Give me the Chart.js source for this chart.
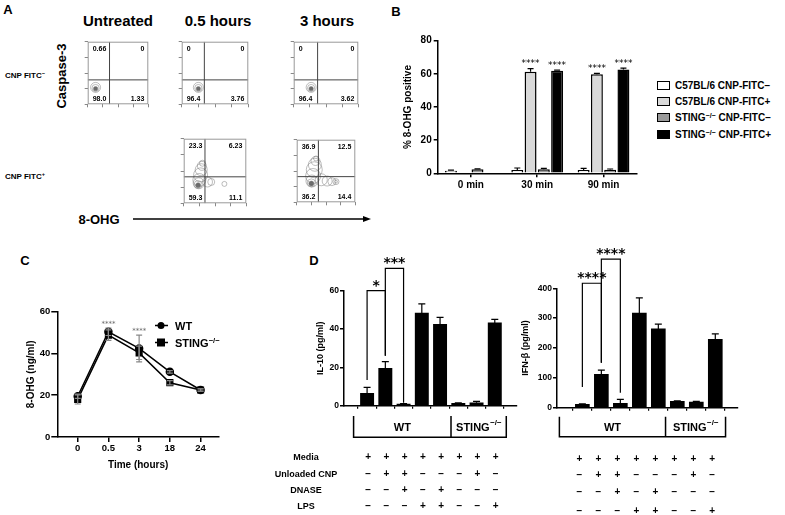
<!DOCTYPE html>
<html lang="en">
<head>
<meta charset="UTF-8" />
<title>8-OHG and STING figure</title>
<script src="https://cdn.jsdelivr.net/npm/chart.js"></script>
<style>
  body { margin: 0; background: #fff; font-family: "Liberation Sans", Arial, sans-serif; }
  #fig { position: relative; width: 785px; height: 515px; overflow: hidden; background: #fff; }
  #fig canvas, #fig svg { position: absolute; }
  .t { position: absolute; font-weight: bold; white-space: nowrap; line-height: 1; color: #000;
       transform: translate(-50%, -50%); }
  .l { position: absolute; font-weight: bold; white-space: nowrap; line-height: 1; color: #000;
       transform: translateY(-50%); }
  sup { font-size: 70%; vertical-align: 0.45em; line-height: 0; }
  .sw { display: inline-block; width: 11px; height: 7px; border: 1.5px solid #000; margin-right: 5px; vertical-align: -1px; }
</style>
</head>
<body>
<div id="fig">
  <!-- panel letters -->
  <div class="t" style="left:8px;top:9px;font-size:13px">A</div>
  <div class="t" style="left:396px;top:11px;font-size:13px">B</div>
  <div class="t" style="left:25px;top:260px;font-size:13px">C</div>
  <div class="t" style="left:314px;top:260px;font-size:13px">D</div>

  <!-- Panel A -->
  <div id="flowHeads"></div>
  <div class="t" style="left:61px;top:76px;font-size:13px;transform:translate(-50%,-50%) rotate(-90deg)">Caspase-3</div>
  <div class="t" style="left:25px;top:76px;font-size:8px">CNP FITC<sup>−</sup></div>
  <div class="t" style="left:25px;top:177px;font-size:8px">CNP FITC<sup>+</sup></div>
  <div class="t" style="left:99px;top:219px;font-size:13px">8-OHG</div>
  <svg width="250" height="12" style="left:128px;top:213px">
    <line x1="5" y1="6" x2="236" y2="6" stroke="#000" stroke-width="1.5" />
    <polygon points="243,6 235,3 235,9" fill="#000" />
  </svg>
  <canvas id="flow0" width="72" height="74" style="left:82px;top:36px"></canvas>
  <canvas id="flow1" width="78" height="74" style="left:176px;top:36px"></canvas>
  <canvas id="flow2" width="76" height="74" style="left:288px;top:36px"></canvas>
  <canvas id="flow3" width="78" height="80" style="left:176px;top:131px"></canvas>
  <canvas id="flow4" width="76" height="80" style="left:288px;top:131px"></canvas>

  <!-- Panel B -->
  <canvas id="chartB" width="255" height="180" style="left:390px;top:20px"></canvas>
  <div id="legendB"></div>

  <!-- Panel C -->
  <canvas id="chartC" width="240" height="195" style="left:0px;top:290px"></canvas>
  <div id="legendC"></div>

  <!-- Panel D -->
  <canvas id="chartD1" width="270" height="270" style="left:250px;top:245px"></canvas>
  <canvas id="chartD2" width="265" height="275" style="left:520px;top:240px"></canvas>
</div>

<script>
  // ---------- Panel A: flow plots ----------
  const flowTitles = ["Untreated", "0.5 hours", "3 hours"];
  // quadrant percentages: upper-left, upper-right, lower-left, lower-right
  const flowQuads = [
    ["0.66", "0", "98.0", "1.33"],
    ["0", "0", "96.4", "3.76"],
    ["0", "0", "96.4", "3.62"],
    ["23.3", "6.23", "59.3", "11.1"],
    ["36.9", "12.5", "36.2", "14.4"],
  ];
  // gate position (x split, y split) on a 0-100 scale
  const flowGates = [[36, 39], [34, 39], [37, 39], [34, 41], [37, 41]];
  // contour rings: x, y, radius, filled core
  const flowContours = [
    [[13, 27, 5, 0], [13, 26, 3.6, 0], [13, 25, 2.2, 1]],
    [[25, 27, 5, 0], [25, 26, 3.6, 0], [25, 25, 2.2, 1]],
    [[27, 27, 5, 0], [27, 26, 3.6, 0], [27, 25, 2.2, 1]],
    [[23, 28, 2.5, 1], [23, 29, 4, 0], [24, 31, 5.5, 0], [25, 36, 6.5, 0], [27, 44, 7, 0],
     [28, 52, 6, 0], [29, 58, 4.5, 0], [30, 62, 3, 0], [38, 33, 5, 0], [44, 33, 3.5, 0],
     [65, 30, 2.5, 0]],
    [[25, 30, 2.5, 1], [25, 31, 4, 0], [26, 34, 6, 0], [28, 42, 7.5, 0], [30, 52, 8, 0],
     [31, 60, 6.5, 0], [32, 66, 4.5, 0], [33, 70, 2.5, 0], [42, 36, 6, 0], [52, 34, 5, 0],
     [60, 33, 4, 0], [67, 33, 3, 0], [67, 33, 1.5, 0]],
  ];

  // ---------- Panel B ----------
  const bCategories = ["0 min", "30 min", "90 min"];
  const bSeries = ["C57BL/6 CNP-FITC−", "C57BL/6 CNP-FITC+", "STING−/− CNP-FITC−", "STING−/− CNP-FITC+"];
  const bColors = ["#ffffff", "#d9d9d9", "#9a9a9a", "#000000"];
  const bC57Neg = [1.6, 2.0, 2.0];
  const bC57Pos = [null, 61.2, 59.8];
  const bStingNeg = [2.4, 2.4, 2.2];
  const bStingPos = [null, 61.8, 62.6];
  const bC57NegErr = [0.3, 1.2, 1.0];
  const bC57PosErr = [null, 2.0, 0.5];
  const bStingNegErr = [0.3, 0.6, 0.4];
  const bStingPosErr = [null, 0.5, 0.9];
  const bStars = [null, "****", "****"];

  // ---------- Panel C ----------
  const cTimes = ["0", "0.5", "3", "18", "24"];
  const cWT = [19.5, 50.4, 42.4, 31.2, 22.5];
  const cWTErr = [1.0, 1.8, 6.4, 0.6, 0.5];
  const cSting = [18.0, 48.8, 40.3, 26.0, 22.5];
  const cStingErr = [2.2, 2.5, 3.2, 1.0, 0.6];
  const cStars = ["", "****", "****", "", ""];

  // ---------- Panel D ----------
  const il10 = [6.5, 19.5, 0.8, 48.3, 42.5, 1.2, 1.5, 43.2];
  const il10Err = [3.1, 3.5, 0.3, 4.8, 3.6, 0.3, 0.8, 1.8];
  const ifnb = [11, 112, 15, 317, 264, 21, 19, 229];
  const ifnbErr = [1.5, 14, 13, 51, 16, 2, 2, 18];
  const il10Brackets = [
    { from: 0, to: 1, top: 60, fromBase: 13.4, toBase: 26, label: "*" },
    { from: 1, to: 2, top: 71.7, fromBase: 26, toBase: 1.5, label: "***" },
  ];
  const ifnbBrackets = [
    { from: 0, to: 1, top: 417, fromBase: 69, toBase: 151, label: "****" },
    { from: 1, to: 2, top: 498, fromBase: 151, toBase: 50, label: "****" },
  ];
  const treatRows = ["Media", "Unloaded CNP", "DNASE", "LPS"];
  const media = ["+", "+", "+", "+", "+", "+", "+", "+"];
  const unloadedCnp = ["−", "+", "+", "−", "−", "−", "+", "−"];
  const dnase = ["−", "−", "+", "−", "+", "−", "−", "−"];
  const lps = ["−", "−", "−", "+", "+", "−", "−", "+"];
  const treatSigns = [media, unloadedCnp, dnase, lps];
  const dGroups = [{ text: "WT", sup: "" }, { text: "STING", sup: "−/−" }];

  // ---------- setup ----------
  const FONT = "'Liberation Sans', Arial, sans-serif";
  Chart.defaults.font.family = FONT;
  Chart.defaults.font.weight = "bold";
  Chart.defaults.color = "#000";
  Chart.defaults.animation = false;
  Chart.defaults.responsive = false;
  Chart.defaults.plugins.legend.display = false;
  Chart.defaults.plugins.tooltip.enabled = false;

  const fixW = (w) => (s) => { s.width = w; };
  const fixH = (h) => (s) => { s.height = h; };
  const indexTicks = (n) => (s) => { s.ticks = Array.from({ length: n }, (_, i) => ({ value: i })); };

  // error bars from dataset.errors
  const errorBars = {
    id: "errorBars",
    afterDatasetsDraw(chart) {
      const ctx = chart.ctx;
      const y = chart.scales.y;
      chart.data.datasets.forEach((ds, di) => {
        if (!ds.errors) return;
        const meta = chart.getDatasetMeta(di);
        ctx.save();
        ctx.strokeStyle = ds.errorColor || "#000";
        ctx.lineWidth = 1.2;
        meta.data.forEach((el, i) => {
          const raw = ds.data[i];
          const v = raw !== null && typeof raw === "object" ? raw.y : raw;
          const e = ds.errors[i];
          if (v == null || e == null) return;
          const cap = ds.capWidth || 3;
          const yTop = y.getPixelForValue(v + e);
          const yBot = ds.errorBoth ? y.getPixelForValue(v - e) : el.y;
          ctx.beginPath();
          ctx.moveTo(el.x, yBot); ctx.lineTo(el.x, yTop);
          ctx.moveTo(el.x - cap, yTop); ctx.lineTo(el.x + cap, yTop);
          if (ds.errorBoth) { ctx.moveTo(el.x - cap, yBot); ctx.lineTo(el.x + cap, yBot); }
          ctx.stroke();
        });
        ctx.restore();
      });
    },
  };

  // asterisks above error bars from dataset.stars
  const starLabels = {
    id: "starLabels",
    afterDatasetsDraw(chart) {
      const ctx = chart.ctx;
      const y = chart.scales.y;
      chart.data.datasets.forEach((ds, di) => {
        if (!ds.stars) return;
        const meta = chart.getDatasetMeta(di);
        ctx.save();
        ctx.font = ds.starFont;
        ctx.fillStyle = ds.starColor || "#000";
        ctx.textAlign = "center";
        ctx.textBaseline = "middle";
        meta.data.forEach((el, i) => {
          const s = ds.stars[i];
          if (!s) return;
          const raw = ds.data[i];
          const v = raw !== null && typeof raw === "object" ? raw.y : raw;
          const top = y.getPixelForValue(v + (ds.errors ? ds.errors[i] || 0 : 0));
          ctx.fillText(s, el.x, top - ds.starGap);
        });
        ctx.restore();
      });
    },
  };

  // significance brackets (panel D)
  const sigBrackets = {
    id: "sigBrackets",
    afterDatasetsDraw(chart, args, o) {
      const { ctx, scales: { x, y } } = chart;
      ctx.save();
      ctx.strokeStyle = "#000";
      ctx.lineWidth = 1.2;
      ctx.fillStyle = "#000";
      ctx.font = "bold 14px 'DejaVu Sans'";
      ctx.textAlign = "center";
      ctx.textBaseline = "alphabetic";
      (o.items || []).forEach((b) => {
        const x1 = x.getPixelForValue(b.from);
        const x2 = x.getPixelForValue(b.to);
        const yt = y.getPixelForValue(b.top);
        ctx.beginPath();
        ctx.moveTo(x1, y.getPixelForValue(b.fromBase));
        ctx.lineTo(x1, yt);
        ctx.lineTo(x2, yt);
        ctx.lineTo(x2, y.getPixelForValue(b.toBase));
        ctx.stroke();
        ctx.fillText(b.label, (x1 + x2) / 2, yt - 1);
      });
      ctx.restore();
    },
  };

  // genotype bracket and treatment table under panel D
  const condTable = {
    id: "condTable",
    afterDraw(chart, args, o) {
      const { ctx, scales: { x, y } } = chart;
      const base = y.getPixelForValue(0);
      const xl = x.getPixelForValue(o.boxLeft);
      const xr = x.getPixelForValue(o.boxRight);
      const xd = x.getPixelForValue(o.divider);
      const t = base + o.boxTop, b = base + o.boxBottom;
      ctx.save();
      ctx.strokeStyle = "#000";
      ctx.lineWidth = 1.5;
      ctx.beginPath();
      ctx.moveTo(xl, t); ctx.lineTo(xl, b); ctx.lineTo(xr, b); ctx.lineTo(xr, t);
      ctx.moveTo(xd, t); ctx.lineTo(xd, b);
      ctx.stroke();

      ctx.fillStyle = "#000";
      ctx.textBaseline = "middle";
      const mids = [(xl + xd) / 2, (xd + xr) / 2];
      dGroups.forEach((g, i) => {
        ctx.font = "bold 11px " + FONT;
        const w1 = ctx.measureText(g.text).width;
        ctx.font = "bold 8px " + FONT;
        const w2 = g.sup ? ctx.measureText(g.sup).width : 0;
        const x0 = mids[i] - (w1 + w2) / 2;
        const yy = (t + b) / 2 + 1;
        ctx.textAlign = "left";
        ctx.font = "bold 11px " + FONT;
        ctx.fillText(g.text, x0, yy);
        if (g.sup) {
          ctx.font = "bold 8px " + FONT;
          ctx.fillText(g.sup, x0 + w1 + 0.5, yy - 5);
        }
      });

      ctx.textAlign = "center";
      treatRows.forEach((row, r) => {
        const yy = base + o.rowOffsets[r];
        if (o.labelX != null) {
          ctx.font = "bold 9px " + FONT;
          ctx.fillText(row, o.labelX, yy);
        }
        ctx.font = "bold 10px " + FONT;
        treatSigns[r].forEach((s, i) => ctx.fillText(s, x.getPixelForValue(i) + o.signShift, yy));
      });
      ctx.restore();
    },
  };

  // frame around flow plots + quadrant numbers
  const flowDecor = {
    id: "flowDecor",
    afterDraw(chart, args, o) {
      const { ctx, chartArea: a } = chart;
      ctx.save();
      ctx.strokeStyle = "#999";
      ctx.lineWidth = 1;
      ctx.strokeRect(a.left + 0.5, a.top + 0.5, a.right - a.left - 1, a.bottom - a.top - 1);
      ctx.fillStyle = "#000";
      ctx.font = "bold 7px " + FONT;
      const q = o.quads;
      ctx.textBaseline = "top";
      ctx.textAlign = "left"; ctx.fillText(q[0], a.left + 5, a.top + 4);
      ctx.textAlign = "right"; ctx.fillText(q[1], a.right - 4, a.top + 4);
      ctx.textBaseline = "bottom";
      ctx.textAlign = "left"; ctx.fillText(q[2], a.left + 5, a.bottom - 2);
      ctx.textAlign = "right"; ctx.fillText(q[3], a.right - 4, a.bottom - 2);
      ctx.restore();
    },
  };

  // ---------- Panel A ----------
  const heads = document.getElementById("flowHeads");
  const headX = [118, 218, 327];
  flowTitles.forEach((txt, i) => {
    const d = document.createElement("div");
    d.className = "t";
    d.style.cssText = `left:${headX[i]}px;top:20px;font-size:15px`;
    d.textContent = txt;
    heads.appendChild(d);
  });

  const flowAxis = (afterFit) => ({
    min: 0, max: 100,
    ticks: { stepSize: 25, callback: () => "", font: { size: 1 }, padding: 0 },
    grid: { drawOnChartArea: false, tickLength: 3, color: "#888" },
    border: { display: false },
    afterFit,
  });

  flowQuads.forEach((quads, k) => {
    const pts = flowContours[k];
    const gx = flowGates[k][0], gy = flowGates[k][1];
    new Chart(document.getElementById("flow" + k), {
      type: "scatter",
      data: {
        datasets: [
          { data: [{ x: gx, y: 0 }, { x: gx, y: 100 }], showLine: true, pointRadius: 0, borderColor: "#444", borderWidth: 1 },
          { data: [{ x: 0, y: gy }, { x: 100, y: gy }], showLine: true, pointRadius: 0, borderColor: "#444", borderWidth: 1 },
          {
            data: pts.map((p) => ({ x: p[0], y: p[1] })),
            pointRadius: pts.map((p) => p[2]),
            pointBackgroundColor: pts.map((p) => (p[3] ? "rgba(80,80,80,0.85)" : "rgba(0,0,0,0)")),
            pointBorderColor: "rgba(120,120,120,0.7)",
            pointBorderWidth: 0.7,
          },
        ],
      },
      options: {
        layout: { padding: { top: 1, right: 1 } },
        scales: { x: flowAxis(fixH(4)), y: flowAxis(fixW(4)) },
        plugins: { flowDecor: { quads } },
      },
      plugins: [flowDecor],
    });
  });

  // ---------- Panel B ----------
  const bData = [bC57Neg, bC57Pos, bStingNeg, bStingPos];
  const bErrs = [bC57NegErr, bC57PosErr, bStingNegErr, bStingPosErr];
  new Chart(document.getElementById("chartB"), {
    type: "bar",
    data: {
      labels: bCategories,
      datasets: bSeries.map((name, i) => ({
        label: name,
        data: bData[i],
        backgroundColor: bColors[i],
        borderColor: "#000",
        borderWidth: 1.5,
        errors: bErrs[i],
        capWidth: 3,
        stars: i % 2 === 1 ? bStars : null,
        starFont: "9px 'DejaVu Sans'",
        starGap: 4.5,
      })),
    },
    options: {
      layout: { padding: { top: 20.7, right: 8.3 } },
      datasets: { bar: { categoryPercentage: 0.8, barPercentage: 0.9 } },
      scales: {
        x: {
          grid: { drawOnChartArea: false, offset: false, tickLength: 4, color: "#000", lineWidth: 1.5 },
          border: { color: "#000", width: 1.5 },
          ticks: { font: { size: 10 }, padding: 2 },
          afterFit: fixH(26.7),
        },
        y: {
          min: 0, max: 80,
          ticks: { stepSize: 20, font: { size: 10 }, padding: 2 },
          grid: { drawOnChartArea: false, tickLength: 4, color: "#000", lineWidth: 1.5 },
          border: { color: "#000", width: 1.5 },
          title: { display: true, text: "% 8-OHG positive", font: { size: 10 }, padding: { top: 12, bottom: 0 } },
          afterFit: fixW(47.7),
        },
      },
    },
    plugins: [errorBars, starLabels],
  });

  const legB = document.getElementById("legendB");
  bSeries.forEach((name, i) => {
    const d = document.createElement("div");
    d.className = "l";
    d.style.cssText = `left:657px;top:${86 + 16.2 * i}px;font-size:10px`;
    d.innerHTML = `<span class="sw" style="background:${bColors[i]}"></span>` +
      name.replace("−/−", "<sup>−/−</sup>");
    legB.appendChild(d);
  });

  // ---------- Panel C ----------
  new Chart(document.getElementById("chartC"), {
    type: "line",
    data: {
      datasets: [
        {
          label: "WT",
          data: cWT.map((v, i) => ({ x: i, y: v })),
          borderColor: "#000", borderWidth: 1.5,
          pointStyle: "circle", pointRadius: 3.5,
          pointBackgroundColor: "#000", pointBorderColor: "#000",
          errors: cWTErr, errorBoth: true, errorColor: "#888", capWidth: 3,
          stars: cStars, starFont: "7px 'DejaVu Sans'", starColor: "#666", starGap: 4,
        },
        {
          label: "STING−/−",
          data: cSting.map((v, i) => ({ x: i, y: v })),
          borderColor: "#000", borderWidth: 1.5,
          pointStyle: "rect", pointRadius: 4,
          pointBackgroundColor: "#000", pointBorderColor: "#000",
          errors: cStingErr, errorBoth: true, errorColor: "#888", capWidth: 3,
        },
      ],
    },
    options: {
      layout: { padding: { top: 21.7, right: 21 } },
      scales: {
        x: {
          type: "linear", min: -0.664, max: 4.6,
          afterBuildTicks: indexTicks(cTimes.length),
          ticks: { callback: (v) => cTimes[v], font: { size: 9.5 }, padding: 1 },
          grid: { drawOnChartArea: false, tickLength: 5, color: "#000", lineWidth: 1.5 },
          border: { color: "#000", width: 1.5 },
          title: { display: true, text: "Time (hours)", font: { size: 10 }, padding: { top: 0, bottom: 14 } },
          afterFit: fixH(48),
        },
        y: {
          min: 0, max: 60,
          ticks: { stepSize: 20, font: { size: 9.5 }, padding: 1 },
          grid: { drawOnChartArea: false, tickLength: 6, color: "#000", lineWidth: 1.5 },
          border: { color: "#000", width: 1.5 },
          title: { display: true, text: "8-OHG (ng/ml)", font: { size: 10 }, padding: { top: 25.7, bottom: 0 } },
          afterFit: fixW(57.3),
        },
      },
    },
    plugins: [errorBars, starLabels],
  });

  const legC = document.getElementById("legendC");
  [["WT", "circle"], ["STING−/−", "rect"]].forEach(([name, shape], i) => {
    const yy = 326 + 17 * i;
    const mark = shape === "circle"
      ? '<circle cx="6" cy="5" r="3.5" fill="#000"/>'
      : '<rect x="2" y="1" width="8" height="8" fill="#000"/>';
    const d = document.createElement("div");
    d.className = "l";
    d.style.cssText = `left:155px;top:${yy}px;font-size:11px`;
    d.innerHTML = `<svg width="13" height="10" style="position:static;vertical-align:-1px;margin-right:7px">` +
      `<line x1="0" y1="5" x2="13" y2="5" stroke="#000" stroke-width="1.5"/>${mark}</svg>` +
      name.replace("−/−", "<sup>−/−</sup>");
    legC.appendChild(d);
  });

  // ---------- Panel D ----------
  const dAxisY = (max, step, title, tpad, w) => ({
    min: 0, max,
    ticks: { stepSize: step, font: { size: 8.5 }, padding: 1 },
    grid: { drawOnChartArea: false, tickLength: 4, color: "#000", lineWidth: 1.5 },
    border: { color: "#000", width: 1.5 },
    title: { display: true, text: title, font: { size: 9 }, padding: { top: tpad, bottom: 0 } },
    afterFit: fixW(w),
  });
  const dAxisX = (min, max) => ({
    type: "linear", min, max,
    afterBuildTicks: indexTicks(8),
    ticks: { callback: () => "", font: { size: 1 }, padding: 0 },
    grid: { drawOnChartArea: false, tickLength: 3, color: "#000", lineWidth: 1.2 },
    border: { color: "#000", width: 1.5 },
    afterFit: fixH(4),
  });

  new Chart(document.getElementById("chartD1"), {
    type: "bar",
    data: {
      datasets: [{
        data: il10.map((v, i) => ({ x: i, y: v })),
        backgroundColor: "#000", barThickness: 13.3,
        errors: il10Err, capWidth: 3.5,
      }],
    },
    options: {
      layout: { padding: { top: 45.7, right: 3, bottom: 105.3 } },
      scales: { x: dAxisX(-0.673, 7.625), y: dAxisY(60, 20, "IL-10 (pg/ml)", 65.6, 94) },
      plugins: {
        sigBrackets: { items: il10Brackets },
        condTable: { boxLeft: -0.74, boxRight: 7.63, divider: 4.6, boxTop: 10.3, boxBottom: 31.6,
                     rowOffsets: [52, 68.6, 85, 101], labelX: 56, signShift: 1 },
      },
    },
    plugins: [errorBars, sigBrackets, condTable],
  });

  new Chart(document.getElementById("chartD2"), {
    type: "bar",
    data: {
      datasets: [{
        data: ifnb.map((v, i) => ({ x: i, y: v })),
        backgroundColor: "#000", barThickness: 14,
        errors: ifnbErr, capWidth: 3.5,
      }],
    },
    options: {
      layout: { padding: { top: 48.3, right: 47, bottom: 103.3 } },
      scales: { x: dAxisX(-0.74, 7.6), y: dAxisY(400, 100, "IFN-β (pg/ml)", 0.6, 37) },
      plugins: {
        sigBrackets: { items: ifnbBrackets },
        condTable: { boxLeft: -1.21, boxRight: 7.54, divider: 4.38, boxTop: 9, boxBottom: 29,
                     rowOffsets: [51.3, 68, 85, 103.3], labelX: null, signShift: -3 },
      },
    },
    plugins: [errorBars, sigBrackets, condTable],
  });
</script>
</body>
</html>
